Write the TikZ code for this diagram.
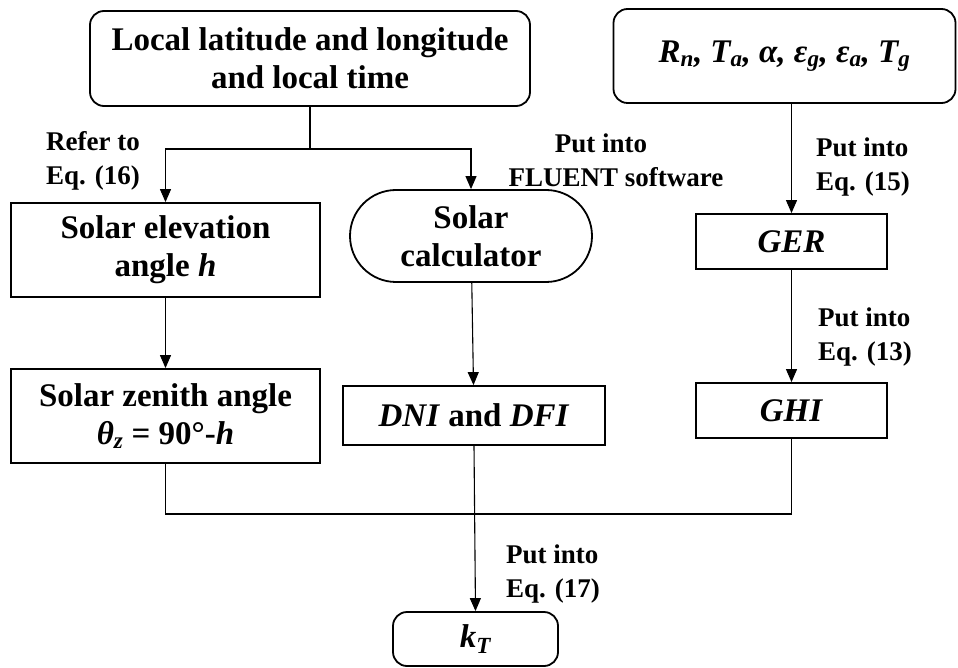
\documentclass[tikz,border=0pt]{standalone}
\usepackage{fontspec}
\setmainfont{Liberation Serif}
\usetikzlibrary{arrows.meta,shapes.misc}
\begin{document}
\begin{tikzpicture}[x=1pt,y=-1pt,
 box/.style={draw,line width=1.8pt,inner sep=0pt,font=\fontsize{33}{38}\selectfont\bfseries,align=center},
 rbox/.style={box,rounded corners=14pt},
 lbl/.style={font=\fontsize{27}{34}\selectfont\bfseries,align=left,anchor=west,inner sep=0pt},
 arr/.style={line width=1.1pt,-{Triangle[length=13pt,width=11pt]}},
 ln/.style={line width=1.1pt}]
\useasboundingbox (0,0) rectangle (958,668);
% boxes
\node[rbox,minimum width=440pt,minimum height=95pt] (top1) at (310,58.5) {Local latitude and longitude\\and local time};
\node[rbox,minimum width=342pt,minimum height=94pt] (top2) at (784.5,56) {\textit{R\textsubscript{n}, T\textsubscript{a}, α, ε\textsubscript{g}, ε\textsubscript{a}, T\textsubscript{g}}};
\node[box,minimum width=309pt,minimum height=94pt] (elev) at (165.5,250) {Solar elevation\\angle \textit{h}};
\node[box,minimum width=309pt,minimum height=94pt] (zen) at (165.5,416) {Solar zenith angle\\\textit{θ\textsubscript{z}} = 90°-\textit{h}};
\node[box,rounded rectangle,minimum width=242pt,minimum height=92pt] (calc) at (471,236) {Solar\\calculator};
\node[box,minimum width=262pt,minimum height=59pt] (dni) at (474,415.5) {\textit{DNI} and \textit{DFI}};
\node[box,minimum width=191pt,minimum height=55pt] (ger) at (791.5,241.5) {\textit{GER}};
\node[box,minimum width=191pt,minimum height=55pt] (ghi) at (791.5,410.5) {\textit{GHI}};
\node[rbox,minimum width=165pt,minimum height=54pt] (kt) at (475.5,639) {\textit{k\textsubscript{T}}};
% labels
\node[lbl] (l16) at (46,161) {Refer to\\Eq. (16)};
\node[lbl,align=center,anchor=center] (lfl) at (616,160) {Put into\hspace*{30pt}\\FLUENT software};
\node[lbl] (l15) at (816,167) {Put into\\Eq. (15)};
\node[lbl] (l13) at (818,337) {Put into\\Eq. (13)};
\node[lbl] (l17) at (506,574) {Put into\\Eq. (17)};
% connectors
\coordinate (j1) at (310,149);
\coordinate (bus) at (0,514);
\draw[ln] (top1.south) -- (j1);
\draw[arr] (j1) -| (elev.north);
\draw[arr] (j1) -| (calc.north);
\draw[arr] (elev) -- (zen);
\draw[arr] (calc) -- (dni);
\draw[arr] (ger.north |- top2.south) -- (ger.north);
\draw[arr] (ger) -- (ghi);
\draw[ln] (zen.south) -- (zen.south |- bus) -- (ghi.south |- bus) -- (ghi.south);
\draw[arr] (dni.south) -- (kt.north);
\end{tikzpicture}
\end{document}
